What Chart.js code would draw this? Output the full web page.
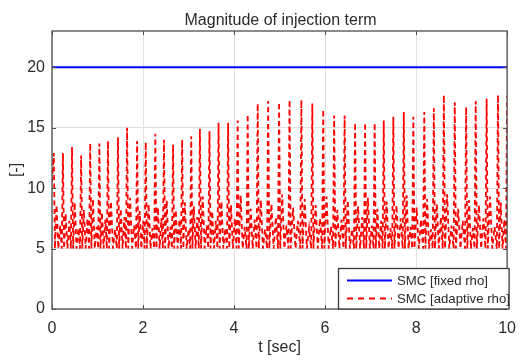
<!DOCTYPE html>
<html><head><meta charset="utf-8">
<script src="https://cdn.jsdelivr.net/npm/chart.js@4/dist/chart.umd.min.js"></script>
<style>html,body{margin:0;padding:0;background:#fff;}#wrap{width:526px;height:361px;}</style>
</head><body><div id="wrap"><canvas id="c" width="526" height="361"></canvas></div>
<script>
const titleText = 'Magnitude of injection term';
const xLabel = 't [sec]';
const yLabel = '[-]';
const seriesNames = ['SMC [fixed rho]', 'SMC [adaptive rho]'];
const xTicks = [0, 2, 4, 6, 8, 10];
const yTicks = [0, 5, 10, 15, 20];
const fixedT = [0, 10];
const fixedRho = [20, 20];
const adaptiveT = [
 0.00,
 0.04,0.065,0.10,0.14,0.18,0.215,
 0.24,0.265,0.30,0.34,0.38,0.415,
 0.44,0.465,0.50,0.54,0.58,0.615,
 0.64,0.665,0.70,0.74,0.78,0.815,
 0.84,0.865,0.90,0.94,0.98,1.015,
 1.04,1.065,1.097,1.135,1.173,1.205,
 1.23,1.255,1.296,1.34,1.384,1.425,
 1.45,1.475,1.51,1.55,1.59,1.625,
 1.65,1.675,1.716,1.76,1.804,1.845,
 1.87,1.895,1.927,1.965,2.003,2.035,
 2.06,2.085,2.123,2.165,2.207,2.245,
 2.27,2.295,2.327,2.365,2.403,2.435,
 2.46,2.485,2.52,2.56,2.60,2.635,
 2.66,2.685,2.72,2.76,2.80,2.835,
 2.86,2.885,2.92,2.96,3.00,3.035,
 3.06,3.085,3.117,3.155,3.193,3.225,
 3.25,3.275,3.313,3.355,3.397,3.435,
 3.46,3.485,3.52,3.56,3.60,3.635,
 3.66,3.685,3.723,3.765,3.807,3.845,
 3.87,3.895,3.933,3.975,4.017,4.055,
 4.08,4.105,4.146,4.19,4.234,4.275,
 4.30,4.325,4.366,4.41,4.454,4.495,
 4.52,4.545,4.589,4.635,4.681,4.725,
 4.75,4.775,4.822,4.87,4.918,4.965,
 4.99,5.015,5.059,5.105,5.151,5.195,
 5.22,5.245,5.298,5.35,5.402,5.455,
 5.48,5.505,5.552,5.60,5.648,5.695,
 5.72,5.745,5.792,5.84,5.888,5.935,
 5.96,5.985,6.032,6.08,6.128,6.175,
 6.20,6.225,6.269,6.315,6.361,6.405,
 6.43,6.455,6.499,6.545,6.591,6.635,
 6.66,6.685,6.726,6.77,6.814,6.855,
 6.88,6.905,6.943,6.985,7.027,7.065,
 7.09,7.115,7.15,7.19,7.23,7.265,
 7.29,7.315,7.353,7.395,7.437,7.475,
 7.50,7.525,7.569,7.615,7.661,7.705,
 7.73,7.755,7.793,7.835,7.877,7.915,
 7.94,7.965,8.012,8.06,8.108,8.155,
 8.18,8.205,8.243,8.285,8.327,8.365,
 8.39,8.415,8.456,8.50,8.544,8.585,
 8.61,8.635,8.682,8.73,8.778,8.825,
 8.85,8.875,8.925,8.975,9.025,9.075,
 9.10,9.125,9.163,9.205,9.247,9.285,
 9.31,9.335,9.382,9.43,9.478,9.525,
 9.55,9.575,9.625,9.675,9.725,9.775,
 9.80,9.825,9.86,9.90,9.94,9.975,
 10.00
];
const adaptiveRho = [
 10.5,
 12.9,5.0,8.6,5.0,6.9,5.0,
 12.9,5.0,7.9,5.0,7.3,5.0,
 13.4,5.0,8.8,5.0,6.7,5.0,
 12.7,5.0,8.2,5.0,7.5,5.0,
 13.7,5.0,9.1,5.0,6.8,5.0,
 13.7,5.0,8.0,5.0,7.4,5.0,
 13.9,5.0,8.9,5.0,6.6,5.0,
 14.2,5.0,8.3,5.0,7.6,5.0,
 15.0,5.0,9.2,5.0,6.9,5.0,
 13.9,5.0,8.1,5.0,7.3,5.0,
 13.8,5.0,8.7,5.0,6.7,5.0,
 14.5,5.0,8.4,5.0,7.5,5.0,
 14.0,5.0,9.0,5.0,6.8,5.0,
 13.6,5.0,8.2,5.0,7.4,5.0,
 14.0,5.0,8.8,5.0,6.6,5.0,
 14.3,5.0,8.5,5.0,7.6,5.0,
 14.9,5.0,9.3,5.0,6.9,5.0,
 14.7,5.0,8.1,5.0,7.3,5.0,
 15.4,5.0,8.9,5.0,6.7,5.0,
 15.4,5.0,8.6,5.0,7.5,5.0,
 15.6,5.0,9.4,5.0,6.8,5.0,
 16.1,5.0,8.3,5.0,7.4,5.0,
 17.0,5.0,9.0,5.0,6.6,5.0,
 17.2,5.0,8.7,5.0,7.6,5.0,
 17.1,5.0,9.5,5.0,6.9,5.0,
 17.3,5.0,8.4,5.0,7.3,5.0,
 17.3,5.0,9.1,5.0,6.7,5.0,
 17.0,5.0,8.6,5.0,7.5,5.0,
 16.5,5.0,9.3,5.0,6.8,5.0,
 16.0,5.0,8.2,5.0,7.4,5.0,
 16.0,5.0,9.0,5.0,6.6,5.0,
 15.4,5.0,8.5,5.0,7.6,5.0,
 15.4,5.0,9.2,5.0,6.9,5.0,
 15.4,5.0,8.3,5.0,7.3,5.0,
 15.6,5.0,8.9,5.0,6.7,5.0,
 15.9,5.0,8.6,5.0,7.5,5.0,
 16.3,5.0,9.4,5.0,6.8,5.0,
 15.9,5.0,8.4,5.0,7.4,5.0,
 16.3,5.0,9.1,5.0,6.6,5.0,
 16.6,5.0,8.7,5.0,7.6,5.0,
 17.7,5.0,9.5,5.0,6.9,5.0,
 17.1,5.0,8.3,5.0,7.3,5.0,
 16.7,5.0,9.0,5.0,6.7,5.0,
 17.2,5.0,8.6,5.0,7.5,5.0,
 17.4,5.0,9.3,5.0,6.8,5.0,
 17.7,5.0,8.8,5.0,7.4,5.0,
 17.6
];

const FONT = '"Liberation Sans", Arial, Helvetica, sans-serif';
const TXT = '#2b2b2b';
const AXC = '#4d4d4d';

const decor = {
  id: 'decor',
  afterDraw(chart) {
    const ctx = chart.ctx, a = chart.chartArea;
    const xs = chart.scales.x, ys = chart.scales.y;
    ctx.save();
    ctx.strokeStyle = AXC; ctx.lineWidth = 1.3;
    ctx.strokeRect(a.left, a.top, a.right - a.left, a.bottom - a.top);
    ctx.lineWidth = 1;
    ctx.beginPath();
    xTicks.forEach(v => {
      const px = Math.round(xs.getPixelForValue(v)) + 0.5;
      ctx.moveTo(px, a.bottom); ctx.lineTo(px, a.bottom - 4);
      ctx.moveTo(px, a.top); ctx.lineTo(px, a.top + 4);
    });
    yTicks.forEach(v => {
      const py = Math.round(ys.getPixelForValue(v)) + 0.5;
      ctx.moveTo(a.left, py); ctx.lineTo(a.left + 4, py);
      ctx.moveTo(a.right, py); ctx.lineTo(a.right - 4, py);
    });
    ctx.stroke();
    ctx.fillStyle = TXT;
    ctx.font = '16px ' + FONT;
    ctx.textAlign = 'center';
    ctx.textBaseline = 'alphabetic';
    ctx.fillText(titleText, (a.left + a.right) / 2 + 1, 25);
    ctx.textBaseline = 'middle';
    ctx.fillText(xLabel, (a.left + a.right) / 2, 348);
    ctx.save();
    ctx.translate(17, (a.top + a.bottom) / 2);
    ctx.rotate(-Math.PI / 2);
    ctx.fillText(yLabel, 0, 0);
    ctx.restore();
    const lx0 = 338.5, ly0 = 268.5, lx1 = a.right + 2, ly1 = a.bottom;
    ctx.fillStyle = '#fff';
    ctx.fillRect(lx0, ly0, lx1 - lx0, ly1 - ly0);
    ctx.strokeStyle = '#3a3a3a'; ctx.lineWidth = 1.3;
    ctx.strokeRect(lx0, ly0, lx1 - lx0, ly1 - ly0);
    const ds = chart.data.datasets;
    const rows = [280.5, 298.5];
    ds.forEach((d, i) => {
      ctx.strokeStyle = d.borderColor; ctx.lineWidth = 2;
      ctx.setLineDash(i === 1 ? [6, 5] : []);
      ctx.beginPath(); ctx.moveTo(347, rows[i]); ctx.lineTo(392, rows[i]); ctx.stroke();
      ctx.setLineDash([]);
      ctx.fillStyle = TXT; ctx.font = '13.2px ' + FONT;
      ctx.textAlign = 'left'; ctx.textBaseline = 'middle';
      ctx.fillText(d.label, 397, rows[i] + 0.5);
    });
    ctx.restore();
  }
};

new Chart(document.getElementById('c'), {
  type: 'line',
  data: {
    datasets: [
      { label: seriesNames[0], data: fixedT.map((t, i) => ({x: t, y: fixedRho[i]})),
        borderColor: '#0000ff', borderWidth: 2, pointRadius: 0, tension: 0 },
      { label: seriesNames[1], data: adaptiveT.map((t, i) => ({x: t, y: adaptiveRho[i]})),
        borderColor: '#ff0000', borderWidth: 1.8, borderDash: [5, 3.5], pointRadius: 0, tension: 0 }
    ]
  },
  options: {
    responsive: false, animation: false, devicePixelRatio: 1,
    layout: { padding: { top: 31, right: 11, left: 0, bottom: 0 } },
    plugins: { legend: { display: false }, title: { display: false }, tooltip: { enabled: false } },
    scales: {
      x: {
        type: 'linear', min: 0, max: 10,
        afterBuildTicks: s => { s.ticks = xTicks.map(v => ({value: v})); },
        afterFit: s => { s.height = 52; },
        grid: { color: '#e0e0e0', drawTicks: false },
        border: { display: false },
        ticks: { padding: 10, color: TXT, font: { size: 16, family: FONT }, maxRotation: 0 }
      },
      y: {
        type: 'linear', min: 0, max: 23,
        afterBuildTicks: s => { s.ticks = yTicks.map(v => ({value: v})); },
        afterFit: s => { s.width = 52; },
        grid: { color: '#e0e0e0', drawTicks: false },
        border: { display: false },
        ticks: { padding: 7, color: TXT, font: { size: 16, family: FONT } }
      }
    }
  },
  plugins: [decor]
});
</script>
</body></html>
